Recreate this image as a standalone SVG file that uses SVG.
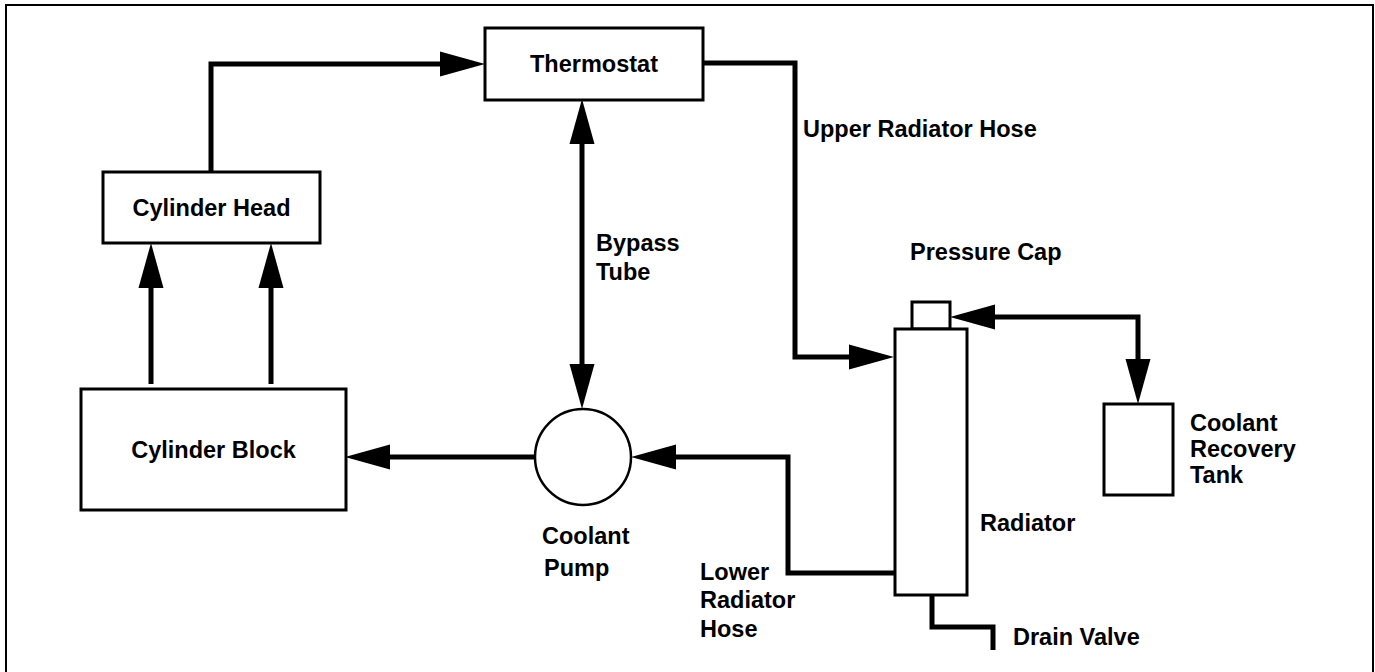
<svg xmlns="http://www.w3.org/2000/svg" width="1375" height="672" viewBox="0 0 1375 672">
  <defs>
    <style>
      .box { fill: #fff; stroke: #000; stroke-width: 3; }
      .pipe { fill: none; stroke: #000; stroke-width: 5; stroke-linejoin: miter; }
      .lbl { font-family: "Liberation Sans", Arial, Helvetica, sans-serif; font-weight: bold; font-size: 23.5px; fill: #000; }
      .mid { text-anchor: middle; }
    </style>
    <marker id="ah" markerUnits="userSpaceOnUse" markerWidth="45" markerHeight="26" refX="0" refY="12.5" orient="auto-start-reverse" viewBox="0 0 45 25" overflow="visible">
      <path d="M0,0 L45,12.5 L0,25 Z" fill="#000"/>
    </marker>
  </defs>
  <rect width="1375" height="672" fill="#fff"/>
  <rect x="6" y="5" width="1367" height="700" fill="none" stroke="#000" stroke-width="2"/>

  <g id="connectors">
    <path class="pipe" d="M211,172 V64 H440" marker-end="url(#ah)"/>
    <path class="pipe" d="M151,384 V288" marker-end="url(#ah)"/>
    <path class="pipe" d="M271,384 V288" marker-end="url(#ah)"/>
    <path class="pipe" d="M535,457 H390" marker-end="url(#ah)"/>
    <path class="pipe" d="M582,144 V364" marker-start="url(#ah)" marker-end="url(#ah)"/>
    <path class="pipe" d="M703,63 H795 V357 H849" marker-end="url(#ah)"/>
    <path class="pipe" d="M895,573 H788 V457 H676" marker-end="url(#ah)"/>
    <path class="pipe" d="M995,317 H1138 V359" marker-start="url(#ah)" marker-end="url(#ah)"/>
    <path class="pipe" d="M932,596 V627 H993 V650"/>
  </g>

  <g id="cylinder-head">
    <rect class="box" x="103" y="172" width="217" height="71"/>
    <text class="lbl mid" x="211.5" y="216">Cylinder Head</text>
  </g>
  <g id="thermostat">
    <rect class="box" x="485" y="28" width="218" height="72"/>
    <text class="lbl mid" x="594" y="72">Thermostat</text>
  </g>
  <g id="cylinder-block">
    <rect class="box" x="81" y="389" width="265" height="121"/>
    <text class="lbl mid" x="213.5" y="458">Cylinder Block</text>
  </g>
  <g id="coolant-pump">
    <circle cx="583" cy="457" r="48" fill="#fff" stroke="#000" stroke-width="2.5"/>
    <text class="lbl" x="542" y="544">Coolant</text>
    <text class="lbl" x="544" y="576">Pump</text>
  </g>
  <g id="bypass-tube">
    <text class="lbl" x="596" y="251">Bypass</text>
    <text class="lbl" x="596" y="280">Tube</text>
  </g>
  <g id="upper-radiator-hose">
    <text class="lbl" x="803" y="137">Upper Radiator Hose</text>
  </g>
  <g id="lower-radiator-hose">
    <text class="lbl" x="700" y="580">Lower</text>
    <text class="lbl" x="700" y="608">Radiator</text>
    <text class="lbl" x="700" y="637">Hose</text>
  </g>
  <g id="pressure-cap">
    <rect class="box" x="912" y="302" width="38" height="27"/>
    <text class="lbl" x="910" y="260">Pressure Cap</text>
  </g>
  <g id="radiator">
    <rect class="box" x="895" y="329" width="72" height="266"/>
    <text class="lbl" x="980" y="531">Radiator</text>
  </g>
  <g id="coolant-recovery-tank">
    <rect class="box" x="1104" y="404" width="69" height="91"/>
    <text class="lbl" x="1190" y="431">Coolant</text>
    <text class="lbl" x="1190" y="457">Recovery</text>
    <text class="lbl" x="1190" y="483">Tank</text>
  </g>
  <g id="drain-valve">
    <text class="lbl" x="1013" y="645">Drain Valve</text>
  </g>
</svg>
